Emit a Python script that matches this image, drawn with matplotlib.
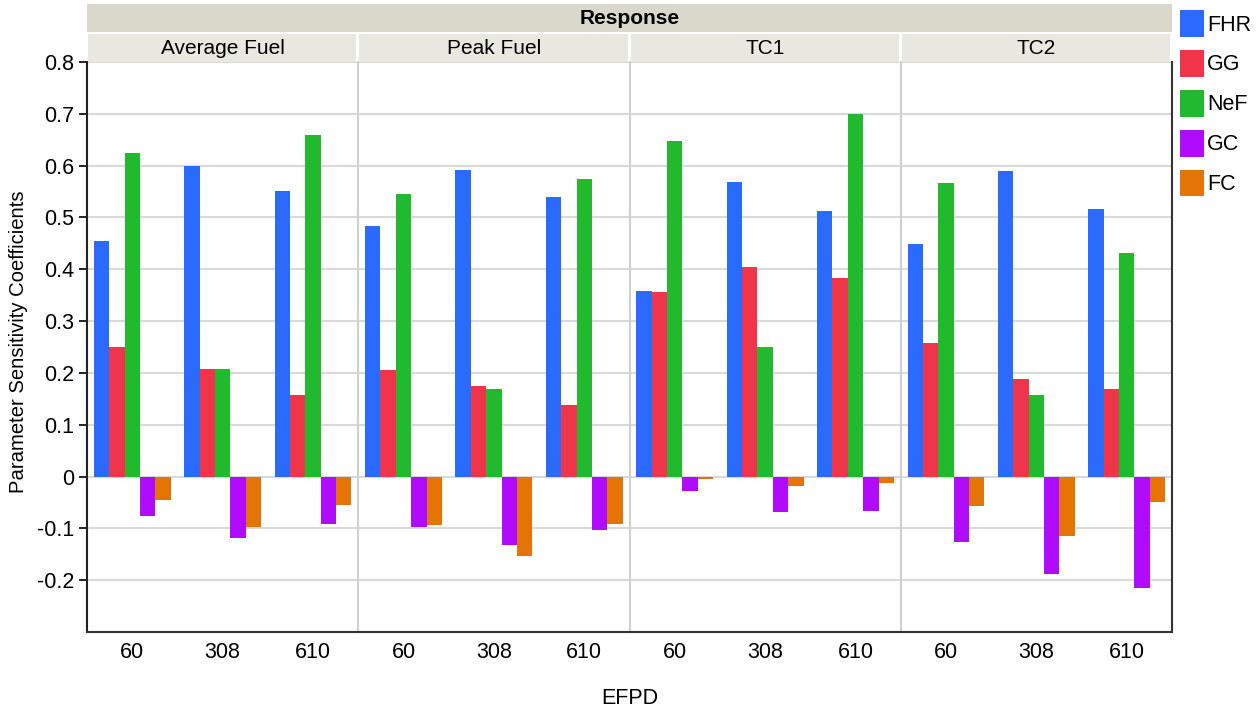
import matplotlib
matplotlib.use('Agg')
import matplotlib.pyplot as plt
from matplotlib.patches import Rectangle, Patch
import numpy as np

plt.rcParams['font.family'] = ['Liberation Sans', 'DejaVu Sans']

responses = ['Average Fuel', 'Peak Fuel', 'TC1', 'TC2']
efpd = ['60', '308', '610']
params = ['FHR', 'GG', 'NeF', 'GC', 'FC']
colors = ['#2A6AFF', '#F0344A', '#21BA2F', '#B00AFF', '#E57407']

# values[response] -> rows = parameter, cols = EFPD
avg_fuel = [[0.455, 0.600, 0.552],
            [0.250, 0.207, 0.157],
            [0.624, 0.207, 0.659],
            [-0.077, -0.118, -0.092],
            [-0.046, -0.098, -0.054]]
peak_fuel = [[0.483, 0.591, 0.539],
             [0.205, 0.174, 0.138],
             [0.545, 0.169, 0.574],
             [-0.097, -0.132, -0.103],
             [-0.093, -0.153, -0.091]]
tc1 = [[0.358, 0.568, 0.512],
       [0.357, 0.405, 0.384],
       [0.647, 0.250, 0.700],
       [-0.028, -0.069, -0.067],
       [-0.005, -0.019, -0.013]]
tc2 = [[0.448, 0.589, 0.517],
       [0.258, 0.188, 0.169],
       [0.566, 0.157, 0.432],
       [-0.127, -0.189, -0.216],
       [-0.056, -0.114, -0.050]]
data = [avg_fuel, peak_fuel, tc1, tc2]

W, H = 1258, 710
fig = plt.figure(figsize=(W / 100, H / 100), dpi=100)

left, right = 87 / W, 1172 / W
bottom, top = 1 - 632 / H, 1 - 62 / H
pw = (right - left) / 4

bar_w = 0.17
x = np.arange(3) + 0.5
for i, name in enumerate(responses):
    ax = fig.add_axes([left + i * pw, bottom, pw, top - bottom])
    vals = np.array(data[i])
    for j, p in enumerate(params):
        ax.bar(x + (j - 2) * bar_w, vals[j], bar_w, color=colors[j], zorder=3)
    ax.set_xlim(0, 3)
    ax.set_ylim(-0.3, 0.8)
    ax.set_yticks(np.arange(-0.2, 0.81, 0.1))
    ax.yaxis.grid(True, color='#D9D9D9', lw=1.5, zorder=0)
    ax.set_xticks(x)
    ax.set_xticklabels(efpd, fontsize=15.5)
    ax.tick_params(axis='x', length=0, pad=7)
    ax.spines['top'].set_visible(False)
    ax.spines['bottom'].set_color('#333333')
    ax.spines['bottom'].set_linewidth(1.5)
    if i == 0:
        ax.spines['left'].set_color('#222222')
        ax.spines['left'].set_linewidth(1.5)
        ax.set_yticklabels(['-0.2', '-0.1', '0', '0.1', '0.2', '0.3', '0.4',
                            '0.5', '0.6', '0.7', '0.8'], fontsize=15.5)
        ax.tick_params(axis='y', length=6, width=1.2, direction='out', pad=3)
    else:
        ax.spines['left'].set_color('#D0D0D0')
        ax.spines['left'].set_linewidth(1.5)
        ax.tick_params(axis='y', length=0, labelleft=False)
    if i == 3:
        ax.spines['right'].set_color('#333333')
        ax.spines['right'].set_linewidth(1.5)
    else:
        ax.spines['right'].set_visible(False)

    # panel strip
    fig.patches.append(Rectangle((left + i * pw + 1 / W, 1 - 62 / H), pw - 3 / W, 28 / H,
                                 transform=fig.transFigure, facecolor='#E8E8E0',
                                 edgecolor='none'))
    fig.text(left + (i + 0.5) * pw, 1 - 48 / H, name, ha='center', va='center', fontsize=15)

# top strip
fig.patches.append(Rectangle((left, 1 - 32 / H), right - left, 28 / H,
                             transform=fig.transFigure, facecolor='#DAD8CA', edgecolor='none'))
fig.text((left + right) / 2, 1 - 18 / H, 'Response', ha='center', va='center',
         fontsize=15, fontweight='bold')

fig.text((left + right) / 2, 1 - 698 / H, 'EFPD', ha='center', va='center', fontsize=15.5)
fig.text(19 / W, 1 - 342 / H, 'Parameter Sensitivity Coefficients', ha='center', va='center',
         rotation=90, fontsize=14.6)

handles = [Patch(facecolor=c, edgecolor='none') for c in colors]
fig.legend(handles, params, loc='upper left', bbox_to_anchor=(1180 / W, 1 - 10 / H),
           frameon=False, fontsize=15.5, handlelength=1.12, handleheight=1.55,
           labelspacing=0.6, handletextpad=0.15, borderaxespad=0, borderpad=0)

fig.savefig('out.png', dpi=100)
